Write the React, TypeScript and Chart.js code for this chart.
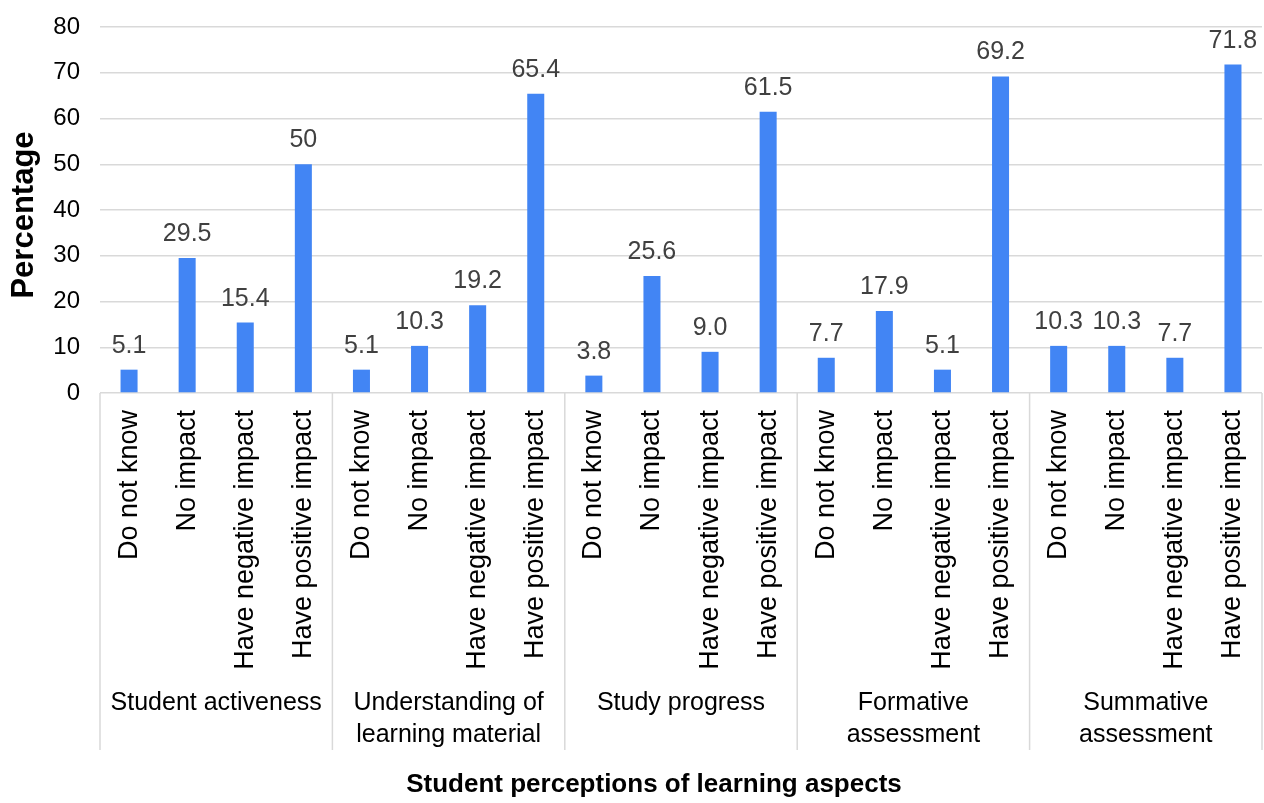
import React, { useEffect, useRef } from 'react';
import { Chart, registerables } from 'chart.js';

Chart.register(...registerables);

// ---- Data ----
const responses = ['Do not know', 'No impact', 'Have negative impact', 'Have positive impact'];
const aspects = [
  ['Student activeness'],
  ['Understanding of', 'learning material'],
  ['Study progress'],
  ['Formative', 'assessment'],
  ['Summative', 'assessment'],
];
const activeness = [5.1, 29.5, 15.4, 50];
const understanding = [5.1, 10.3, 19.2, 65.4];
const progress = [3.8, 25.6, 9.0, 61.5];
const formative = [7.7, 17.9, 5.1, 69.2];
const summative = [10.3, 10.3, 7.7, 71.8];
const valueLabels = [
  '5.1', '29.5', '15.4', '50',
  '5.1', '10.3', '19.2', '65.4',
  '3.8', '25.6', '9.0', '61.5',
  '7.7', '17.9', '5.1', '69.2',
  '10.3', '10.3', '7.7', '71.8',
];
const yTicks = [0, 10, 20, 30, 40, 50, 60, 70, 80];
const xTitle = 'Student perceptions of learning aspects';
const yTitle = 'Percentage';

const values = [...activeness, ...understanding, ...progress, ...formative, ...summative];
const categories = aspects.flatMap(() => responses);

const FONT = '"Liberation Sans", Arial, sans-serif';

const decorPlugin = {
  id: 'decor',
  afterDatasetsDraw(chart: any) {
    const ctx = chart.ctx as CanvasRenderingContext2D;
    const xs = chart.scales.x;
    const area = chart.chartArea;
    ctx.save();

    // value labels
    const meta = chart.getDatasetMeta(0);
    ctx.font = `25px ${FONT}`;
    ctx.fillStyle = '#404040';
    ctx.textAlign = 'center';
    ctx.textBaseline = 'alphabetic';
    meta.data.forEach((bar: any, i: number) => {
      ctx.fillText(valueLabels[i], bar.x, bar.y - 17);
    });

    // group separators
    const step = xs.getPixelForValue(1) - xs.getPixelForValue(0);
    ctx.strokeStyle = '#d9d9d9';
    ctx.lineWidth = 1.5;
    const n = responses.length;
    for (let g = 0; g <= aspects.length; g++) {
      const px = g < aspects.length
        ? xs.getPixelForValue(g * n) - step / 2
        : xs.getPixelForValue(g * n - 1) + step / 2;
      ctx.beginPath();
      ctx.moveTo(px, area.bottom);
      ctx.lineTo(px, area.bottom + 357);
      ctx.stroke();
    }

    // group labels
    ctx.fillStyle = '#000';
    ctx.font = `25px ${FONT}`;
    aspects.forEach((lines, g) => {
      const cx = (xs.getPixelForValue(g * n) + xs.getPixelForValue(g * n + n - 1)) / 2;
      lines.forEach((t, k) => {
        ctx.fillText(t, cx, area.bottom + 317 + k * 32);
      });
    });

    // x title
    ctx.font = `bold 26px ${FONT}`;
    ctx.fillText(xTitle, 654, 792);

    // y title
    ctx.save();
    ctx.translate(33, (area.top + area.bottom) / 2 + 5);
    ctx.rotate(-Math.PI / 2);
    ctx.font = `bold 31px ${FONT}`;
    ctx.fillText(yTitle, 0, 0);
    ctx.restore();

    ctx.restore();
  },
};

export default function App() {
  const ref = useRef<HTMLCanvasElement>(null);

  useEffect(() => {
    document.body.style.margin = '0';
    const canvas = ref.current;
    if (!canvas) return;
    const chart = new Chart(canvas, {
      type: 'bar',
      data: {
        labels: categories,
        datasets: [
          {
            data: values,
            backgroundColor: '#4285F4',
            borderWidth: 0,
            barPercentage: 0.293,
            categoryPercentage: 1,
          },
        ],
      },
      options: {
        animation: false,
        responsive: true,
        maintainAspectRatio: false,
        layout: { padding: { left: 0, right: 2, top: 27, bottom: 133 } },
        plugins: {
          legend: { display: false },
          tooltip: { enabled: false },
        },
        scales: {
          x: {
            grid: { display: false, drawTicks: false },
            border: { display: false },
            ticks: {
              autoSkip: false,
              maxRotation: 90,
              minRotation: 90,
              padding: 17,
              color: '#000',
              font: { family: FONT, size: 27 },
            },
            afterFit: (s: any) => {
              s.height = 277;
              s.paddingLeft = 0;
              s.paddingRight = 0;
            },
          },
          y: {
            min: 0,
            max: 80,
            afterBuildTicks: (s: any) => {
              s.ticks = yTicks.map((v) => ({ value: v }));
            },
            grid: { color: '#d9d9d9', lineWidth: 1.5, drawTicks: false },
            border: { display: false },
            ticks: {
              padding: 20,
              color: '#000',
              font: { family: FONT, size: 24 },
            },
            afterFit: (s: any) => {
              s.width = 100;
              s.paddingTop = 0;
              s.paddingBottom = 0;
            },
          },
        },
      },
      plugins: [decorPlugin],
    });
    return () => chart.destroy();
  }, []);

  return (
    <div style={{ width: 1264, height: 803, position: 'relative' }}>
      <canvas ref={ref} />
    </div>
  );
}
